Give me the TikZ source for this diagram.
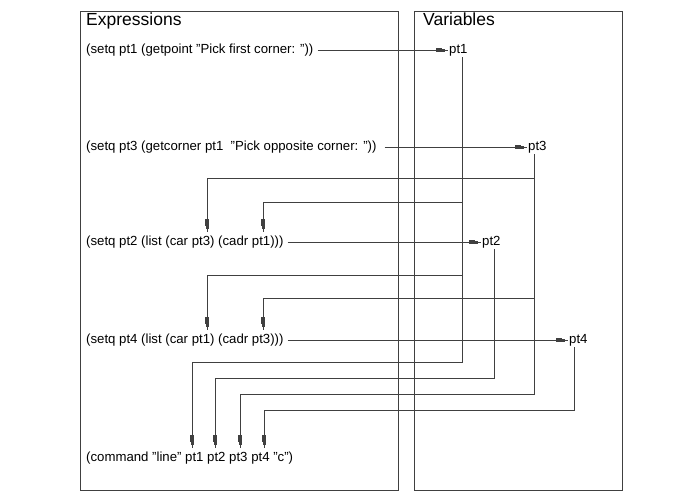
\documentclass[tikz,border=0pt]{standalone}
\usepackage{fontspec}
\setmainfont{Liberation Sans}
\usetikzlibrary{arrows.meta, decorations.markings}
\definecolor{linegray}{RGB}{64,64,64}

\tikzset{
  frame/.style={draw=linegray, line width=0.8pt},
  title/.style={anchor=base west, inner sep=0pt, font=\fontsize{17.5}{20}\selectfont},
  expr/.style={anchor=west, inner sep=4pt, text height=9.5pt, text depth=2.8pt, font=\fontsize{13.2}{15}\selectfont},
  var/.style={anchor=west, inner sep=1pt, text height=9.5pt, text depth=2.8pt, font=\fontsize{13.2}{15}\selectfont},
  feed/.style={color=linegray, line width=0.8pt, postaction={decorate},
    decoration={markings, mark=at position -3pt with {\arrow{Rectangle[length=6.5pt,width=4.2pt] Rectangle[length=3pt,width=2.8pt]}}}}
}

\begin{document}
\begin{tikzpicture}[x=1pt, y=-1pt]
    \useasboundingbox (0,0) rectangle (688,500);

    % Draw the two frames with their titles
    \draw[frame] (80,11) rectangle (398,490);
    \draw[frame] (414,11) rectangle (622,490);
    \node[title] (exptitle) at (86,26) {Expressions};
    \node[title] (vartitle) at (423,26) {Variables};

    % Draw the expressions
    \node[expr] (e1) at (82,50) {(setq pt1 (getpoint "Pick first corner: "))};
    \node[expr] (e3) at (82,147) {(setq pt3 (getcorner pt1\ \ "Pick opposite corner: "))};
    \node[expr] (e2) at (82,242) {(setq pt2 (list (car pt3) (cadr pt1)))};
    \node[expr] (e4) at (82,340) {(setq pt4 (list (car pt1) (cadr pt3)))};
    \node[expr] (cmd) at (82,458) {(command "line" pt1 pt2 pt3 pt4 "c")};

    % Draw the variables
    \node[var] (v1) at (448,50) {pt1};
    \node[var] (v3) at (527,147) {pt3};
    \node[var] (v2) at (481,242) {pt2};
    \node[var] (v4) at (568,340) {pt4};

    % Points where values are read back
    \coordinate (e2car) at (207,0 |- e2.north);
    \coordinate (e2cadr) at (263,0 |- e2.north);
    \coordinate (e4car) at (207,0 |- e4.north);
    \coordinate (e4cadr) at (263,0 |- e4.north);
    \coordinate (cmd1) at (192,0 |- cmd.north);
    \coordinate (cmd2) at (215,0 |- cmd.north);
    \coordinate (cmd3) at (240,0 |- cmd.north);
    \coordinate (cmd4) at (264,0 |- cmd.north);

    % Draw the assignments
    \draw[feed] (e1.east) -- (v1.west);
    \draw[feed] ([xshift=4pt]e3.east) -- (v3.west);
    \draw[feed] (e2.east) -- (v2.west);
    \draw[feed] (e4.east) -- (v4.west);

    % Draw the uses of each variable
    \draw[feed] ([xshift=-3pt]v3.south) |- (e2car |- 0,178) -- (e2car);
    \draw[feed] ([xshift=4pt]v1.south) |- (e2cadr |- 0,202) -- (e2cadr);
    \draw[feed] ([xshift=4pt]v1.south) |- (e4car |- 0,275) -- (e4car);
    \draw[feed] ([xshift=-3pt]v3.south) |- (e4cadr |- 0,298) -- (e4cadr);
    \draw[feed] ([xshift=4pt]v1.south) |- (cmd1 |- 0,362) -- (cmd1);
    \draw[feed] ([xshift=3pt]v2.south) |- (cmd2 |- 0,378) -- (cmd2);
    \draw[feed] ([xshift=-3pt]v3.south) |- (cmd3 |- 0,394) -- (cmd3);
    \draw[feed] ([xshift=-4pt]v4.south) |- (cmd4 |- 0,410) -- (cmd4);
\end{tikzpicture}
\end{document}
